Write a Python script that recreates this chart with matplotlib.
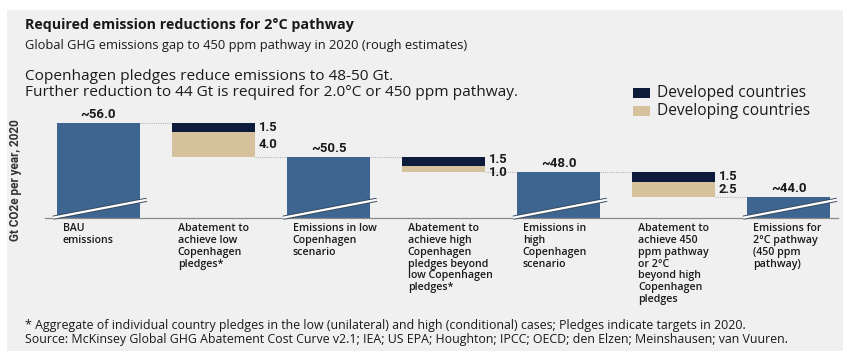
import matplotlib.pyplot as plt
from matplotlib.patches import Rectangle

# waterfall data, Gt CO2e per year in 2020
categories = ["BAU\nemissions",
              "Abatement to\nachieve low\nCopenhagen\npledges*",
              "Emissions in low\nCopenhagen\nscenario",
              "Abatement to\nachieve high\nCopenhagen\npledges beyond\nlow Copenhagen\npledges*",
              "Emissions in\nhigh\nCopenhagen\nscenario",
              "Abatement to\nachieve 450\nppm pathway\nor 2°C\nbeyond high\nCopenhagen\npledges",
              "Emissions for\n2°C pathway\n(450 ppm\npathway)"]
totals = [56.0, None, 50.5, None, 48.0, None, 44.0]
developed = [None, 1.5, None, 1.5, None, 1.5, None]
developing = [None, 4.0, None, 1.0, None, 2.5, None]

BLUE = "#3d6590"
NAVY = "#0e1b3a"
TAN = "#d5c19b"
PANEL = "#f0f0f0"
TXT = "#1a1a1a"

W, H = 845, 351
fig = plt.figure(figsize=(W / 100, H / 100), dpi=100, facecolor="white")
fig.patches.append(Rectangle((7 / W, 0), 836 / W, 1 - 10 / H,
                             transform=fig.transFigure, facecolor=PANEL,
                             edgecolor="none", zorder=-10))

def fx(px):
    return px / W

def fy(py):
    return 1 - py / H

head = ["Open Sans", "DejaVu Sans"]
narrow = ["Roboto", "DejaVu Sans"]

fig.text(fx(25), fy(25), "Required emission reductions for 2°C pathway",
         family=head, fontsize=10.3, fontweight="bold", color=TXT, va="center")
fig.text(fx(25), fy(45), "Global GHG emissions gap to 450 ppm pathway in 2020 (rough estimates)",
         family=head, fontsize=9.3, color=TXT, va="center")
fig.text(fx(25), fy(76), "Copenhagen pledges reduce emissions to 48-50 Gt.",
         family=head, fontsize=11.1, color=TXT, va="center")
fig.text(fx(25), fy(93), "Further reduction to 44 Gt is required for 2.0°C or 450 ppm pathway.",
         family=head, fontsize=11.1, color=TXT, va="center")

# legend
for py, col, lab in [(93, NAVY, "Developed countries"), (111, TAN, "Developing countries")]:
    fig.patches.append(Rectangle((fx(633), fy(py + 5)), 17 / W, 10 / H,
                                 transform=fig.transFigure, facecolor=col,
                                 edgecolor="none"))
    fig.text(fx(657), fy(py), lab, family=head, fontsize=11.2, color=TXT, va="center")

fig.text(fx(25), fy(326),
         "* Aggregate of individual country pledges in the low (unilateral) and high (conditional) cases; "
         "Pledges indicate targets in 2020.",
         family=head, fontsize=8.9, color=TXT, va="center")
fig.text(fx(25), fy(340),
         "Source: McKinsey Global GHG Abatement Cost Curve v2.1; IEA; US EPA; Houghton; IPCC; OECD; "
         "den Elzen; Meinshausen; van Vuuren.",
         family=head, fontsize=8.9, color=TXT, va="center")

fig.text(fx(16), fy(180), "Gt CO2e per year, 2020", family=narrow, fontsize=8.5,
         fontweight="bold", color="#333333", rotation=90, ha="center", va="center")

ax = fig.add_axes([fx(45), fy(218), (838 - 45) / W, (218 - 110) / H])
ax.set_facecolor("none")
ymin, ymax = 40.6, 58.1
ax.set_ylim(ymin, ymax)
ax.set_xlim(-0.465, 6.43)
for s in ["top", "left", "right"]:
    ax.spines[s].set_visible(False)
ax.spines["bottom"].set_color("#8a8a8a")
ax.spines["bottom"].set_linewidth(0.9)
ax.set_xticks([])
ax.set_yticks([])

bw = 0.72
level = totals[0]
for i in range(len(categories)):
    if totals[i] is not None:
        level = totals[i]
        ax.bar(i, level - ymin, bottom=ymin, width=bw, color=BLUE, zorder=2)
        ax.text(i, level + 0.35, "~%.1f" % level, ha="center", va="bottom",
                family=narrow, fontsize=9.6, fontweight="bold", color=TXT)
        # axis break mark
        x0, x1 = i - bw / 2 - 0.035, i + bw / 2 + 0.06
        y0, y1 = ymin + 0.05, ymin + 2.95
        ax.plot([x0, x1], [y0, y1], color="#3a4a60", lw=3.0, zorder=3,
                solid_capstyle="butt", clip_on=False)
        ax.plot([x0, x1], [y0, y1], color="white", lw=1.6, zorder=4,
                solid_capstyle="butt", clip_on=False)
    else:
        top = level
        mid = top - developed[i]
        bot = mid - developing[i]
        ax.bar(i, developed[i], bottom=mid, width=bw, color=NAVY, zorder=2)
        ax.bar(i, developing[i], bottom=bot, width=bw, color=TAN, zorder=2)
        xr = i + bw / 2 + 0.035
        if developing[i] < 2:
            # thin segments: stack the two labels around the split
            ya, vaa, yb, vab = mid + 0.05, "bottom", mid - 0.05, "top"
        else:
            ya, vaa, yb, vab = (top + mid) / 2, "center", (mid + bot) / 2, "center"
        ax.text(xr, ya, "%.1f" % developed[i], ha="left", va=vaa,
                family=narrow, fontsize=9.4, fontweight="bold", color=TXT)
        ax.text(xr, yb, "%.1f" % developing[i], ha="left", va=vab,
                family=narrow, fontsize=9.4, fontweight="bold", color=TXT)
        # connectors: previous total -> abatement top, abatement bottom -> next total
        ax.plot([i - 1 + bw / 2, i - bw / 2], [top, top], color="#b8b8b8",
                lw=0.8, ls=(0, (1, 1)), zorder=1)
        ax.plot([i + bw / 2, i + 1 - bw / 2], [bot, bot], color="#b8b8b8",
                lw=0.8, ls=(0, (1, 1)), zorder=1)
        level = bot

    ax.text(i - bw / 2 + 0.05, ymin - 0.85, categories[i], ha="left", va="top",
            family=head, fontsize=7.7, fontweight="semibold", color=TXT,
            linespacing=1.1)

fig.savefig("out.png", dpi=100, facecolor=fig.get_facecolor())
